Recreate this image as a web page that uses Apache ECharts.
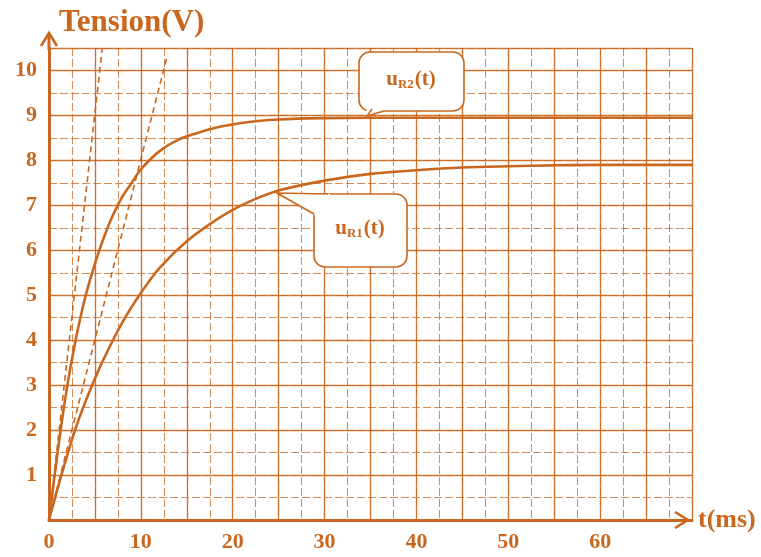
<!DOCTYPE html>
<html>
<head>
<meta charset="utf-8">
<script src="https://cdn.jsdelivr.net/npm/echarts@6/dist/echarts.min.js"></script>
<style>
  html, body { margin: 0; padding: 0; background: #fff; }
  #chart { width: 761px; height: 557px; }
</style>
</head>
<body>
<div id="chart"></div>
<script>
  // t in ms, voltage in V
  const tR2 = [0, 1, 2, 3, 4, 5, 6, 7, 8, 9, 10, 12, 14, 16, 18, 20, 22, 25, 30, 35, 40, 50, 60, 70]
  const uR2 = [0, 1.6, 3.0, 4.1, 5.0, 5.7, 6.3, 6.8, 7.2, 7.5, 7.8, 8.2, 8.45, 8.6, 8.72, 8.8, 8.86, 8.91, 8.94, 8.95, 8.95, 8.95, 8.95, 8.95]
  const tR1 = [0, 1, 2, 3, 4, 5, 6, 8, 10, 12, 15, 18, 20, 22, 25, 30, 35, 40, 45, 50, 55, 60, 70]
  const uR1 = [0, 0.75, 1.45, 2.1, 2.65, 3.15, 3.6, 4.4, 5.05, 5.6, 6.2, 6.65, 6.9, 7.1, 7.33, 7.55, 7.7, 7.78, 7.84, 7.87, 7.89, 7.9, 7.9]
  // dashed tangents at the origin
  const tan2T = [0, 5.8]
  const tan2U = [0, 10.5]
  const tan1T = [0, 12.9]
  const tan1U = [0, 10.35]
  const xTickLabels = ['0', '10', '20', '30', '40', '50', '60']
  const yTickLabels = ['1', '2', '3', '4', '5', '6', '7', '8', '9', '10']

  const ink = '#c9671f'
  const serif = 'Liberation Serif'
  const pairs = (xs, ys) => xs.map((x, i) => [x, ys[i]])

  // rounded box + little tail pointing at a curve
  const callout = (box, tail, label, tx, ty) => [
    { type: 'rect', z: 60, shape: { x: box[0], y: box[1], width: box[2], height: box[3], r: 11 },
      style: { fill: '#fff', stroke: ink, lineWidth: 1.6 } },
    { type: 'polygon', z: 61, shape: { points: tail.fill }, style: { fill: '#fff', stroke: null } },
    { type: 'polyline', z: 62, shape: { points: tail.edge }, style: { fill: null, stroke: ink, lineWidth: 1.6 } },
    {
      type: 'text', z: 63, x: tx, y: ty,
      style: {
        text: '{u|u}{s|' + label + '}{u|(t)}', align: 'center', verticalAlign: 'middle',
        rich: {
          u: { fill: ink, fontFamily: serif, fontWeight: 'bold', fontSize: 21 },
          s: { fill: ink, fontFamily: serif, fontWeight: 'bold', fontSize: 13, padding: [9, 1, 0, 0] }
        }
      }
    }
  ]

  const chart = echarts.init(document.getElementById('chart'))
  const option = {
    animation: false,
    grid: { left: 49, right: 69, top: 48, bottom: 37 },
    xAxis: [
      {
        type: 'value', min: 0, max: 70, interval: 5, z: 1,
        name: 't(ms)', nameLocation: 'end', nameGap: 6,
        nameTextStyle: { color: ink, fontFamily: serif, fontWeight: 'bold', fontSize: 26, verticalAlign: 'middle' },
        axisLine: { show: true, lineStyle: { color: ink, width: 3 } },
        axisTick: { show: false },
        splitLine: { show: true, lineStyle: { color: ink, width: 1.4, opacity: 0.85 } },
        axisLabel: {
          color: ink, fontFamily: serif, fontWeight: 'bold', fontSize: 22, margin: 11,
          formatter: v => (xTickLabels.includes(String(v)) ? String(v) : '')
        }
      },
      {
        type: 'value', min: 0, max: 70, interval: 2.5, position: 'top', z: 0,
        axisLine: { show: false }, axisTick: { show: false }, axisLabel: { show: false },
        splitLine: { show: true, lineStyle: { color: ink, width: 1, type: [8, 3], opacity: 0.75 } }
      }
    ],
    yAxis: [
      {
        type: 'value', min: 0, max: 10.5, interval: 1, z: 1,
        name: 'Tension(V)', nameLocation: 'end', nameGap: 10,
        nameTextStyle: { color: ink, fontFamily: serif, fontWeight: 'bold', fontSize: 31, align: 'left', padding: [0, 0, 0, 10] },
        axisLine: { show: true, lineStyle: { color: ink, width: 3 } },
        axisTick: { show: false },
        splitLine: { show: true, lineStyle: { color: ink, width: 1.4, opacity: 0.85 } },
        axisLabel: {
          color: ink, fontFamily: serif, fontWeight: 'bold', fontSize: 22, margin: 12,
          formatter: v => (yTickLabels.includes(String(v)) ? String(v) : '')
        }
      },
      {
        type: 'value', min: 0, max: 10.5, interval: 0.5, position: 'right', z: 0,
        axisLine: { show: false }, axisTick: { show: false }, axisLabel: { show: false },
        splitLine: { show: true, lineStyle: { color: ink, width: 1, type: [8, 3], opacity: 0.75 } }
      }
    ],
    series: [
      {
        name: 'uR2', type: 'line', data: pairs(tR2, uR2), smooth: 0.35,
        showSymbol: false, lineStyle: { color: ink, width: 2.6 }, z: 3
      },
      {
        name: 'uR1', type: 'line', data: pairs(tR1, uR1), smooth: 0.35,
        showSymbol: false, lineStyle: { color: ink, width: 2.6 }, z: 3
      },
      {
        name: 'tangent R2', type: 'line', data: pairs(tan2T, tan2U), showSymbol: false,
        lineStyle: { color: ink, width: 1.6, type: [6, 4] }, z: 2
      },
      {
        name: 'tangent R1', type: 'line', data: pairs(tan1T, tan1U), showSymbol: false,
        lineStyle: { color: ink, width: 1.6, type: [6, 4] }, z: 2
      }
    ],
    graphic: [
      // axis arrows
      { type: 'line', z: 50, shape: { x1: 49, y1: 50, x2: 49, y2: 33 }, style: { stroke: ink, lineWidth: 3 } },
      { type: 'polyline', z: 50, shape: { points: [[41, 46], [49, 33], [57, 46]] }, style: { stroke: ink, lineWidth: 2.6, fill: null } },
      { type: 'polyline', z: 50, shape: { points: [[675, 512], [688, 520], [675, 528]] }, style: { stroke: ink, lineWidth: 2.6, fill: null } },
      ...callout([359, 52, 105, 59], {
        fill: [[366, 100], [384, 100], [384, 112], [367, 116]],
        edge: [[372, 109], [367, 116], [384, 111]]
      }, 'R2', 411, 80),
      ...callout([314, 194, 93, 73], {
        fill: [[277, 193], [330, 194], [330, 215], [315, 215]],
        edge: [[328, 194], [277, 193], [314, 214]]
      }, 'R1', 360, 229)
    ]
  }
  chart.setOption(option)
</script>
</body>
</html>
